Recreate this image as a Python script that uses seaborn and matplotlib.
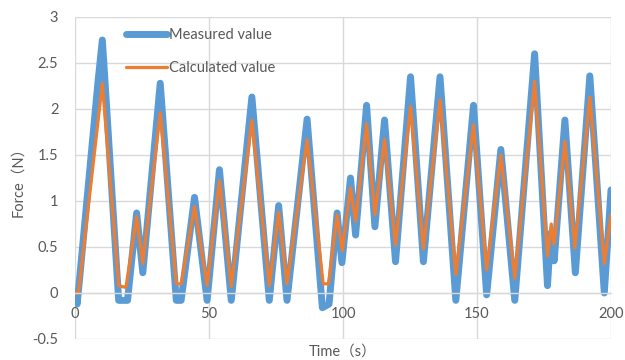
import numpy as np
import pandas as pd
import matplotlib
matplotlib.use("Agg")
import matplotlib.pyplot as plt
import seaborn as sns

# ---- data ----
meas_t = [0, 0.8, 1.6, 8.6, 10.2, 11.2, 16.3, 19.6, 23.0, 25.3, 31.8, 37.8, 39.6,
          44.6, 49.3, 53.9, 58.3, 66.0, 72.5, 76.0, 79.1, 86.6, 92.3, 94.8, 97.8,
          99.6, 102.8, 104.7, 108.8, 111.9, 115.5, 119.6, 125.2, 130.0, 136.2,
          142.1, 148.7, 153.6, 158.9, 164.1, 171.5, 176.3, 177.5, 178.8, 182.8,
          186.7, 192.1, 197.5, 200.0]
meas_v = [0.0, -0.12, 0.12, 2.3, 2.75, 2.3, -0.08, -0.08, 0.87, 0.22, 2.28, -0.08, -0.08,
          1.04, -0.08, 1.34, -0.08, 2.13, -0.08, 0.95, -0.08, 1.89, -0.16, -0.12, 0.87,
          0.33, 1.25, 0.63, 2.04, 0.72, 1.88, 0.34, 2.35, 0.34, 2.35,
          -0.08, 2.04, -0.02, 1.56, -0.08, 2.6, 0.08, 0.65, 0.35, 1.88,
          0.22, 2.36, 0.0, 1.12]

calc_t = [0, 1.3, 10.2, 16.3, 19.0, 23.0, 25.3, 31.8, 37.8, 39.6, 44.6, 49.3, 53.9,
          58.3, 66.0, 72.5, 76.0, 79.1, 86.6, 92.6, 94.6, 97.8, 99.7, 102.8, 104.7,
          108.8, 111.9, 115.5, 119.6, 125.2, 130.0, 136.2, 142.1, 148.7, 153.6,
          158.9, 164.1, 171.5, 176.3, 177.7, 178.8, 182.8, 186.5, 192.1, 197.5, 200.0]
calc_v = [0.0, 0.0, 2.28, 0.08, 0.06, 0.83, 0.32, 1.96, 0.1, 0.1, 0.94, 0.08, 1.22,
          0.07, 1.88, 0.08, 0.88, 0.1, 1.67, 0.1, 0.1, 0.85, 0.46, 1.14, 0.78,
          1.84, 0.85, 1.67, 0.52, 2.03, 0.48, 2.1, 0.2, 1.83, 0.25,
          1.5, 0.16, 2.3, 0.4, 0.75, 0.53, 1.65, 0.49, 2.13, 0.32, 0.85]

x_ticks = [0, 50, 100, 150, 200]
y_ticks = [-0.5, 0, 0.5, 1, 1.5, 2, 2.5, 3]
y_tick_labels = ["-0.5", "0", "0.5", "1", "1.5", "2", "2.5", "3"]

sns.set_theme(style="white")
plt.rcParams["font.family"] = ["Lato", "Noto Sans CJK JP", "DejaVu Sans"]

TXT = "#595959"
GRID = "#d9d9d9"

fig = plt.figure(figsize=(6.25, 3.6), dpi=100)
ax = fig.add_axes([75 / 625, 1 - 339 / 360, (611 - 75) / 625, (339 - 17) / 360])

sns.lineplot(x=meas_t, y=meas_v, ax=ax, color="#5b9bd5", lw=5.0, sort=False,
             estimator=None, label="Measured value",
             solid_joinstyle="round", solid_capstyle="round")
sns.lineplot(x=calc_t, y=calc_v, ax=ax, color="#ed7d31", lw=2.3, sort=False,
             estimator=None, label="Calculated value",
             solid_joinstyle="round", solid_capstyle="round")

ax.set_xlim(0, 200)
ax.set_ylim(-0.5, 3)
ax.set_xticks(x_ticks)
ax.set_xticklabels([str(v) for v in x_ticks])
ax.set_yticks(y_ticks)
ax.set_yticklabels(y_tick_labels)
ax.grid(True, color=GRID, lw=1.0)
ax.set_axisbelow(True)

for s in ["top", "right", "left"]:
    ax.spines[s].set_visible(False)
ax.spines["bottom"].set_position(("data", 0))
ax.spines["bottom"].set_color(GRID)
ax.spines["bottom"].set_linewidth(1.0)

ax.tick_params(axis="both", length=0, labelsize=10.5, colors=TXT)
ax.tick_params(axis="x", pad=10)
ax.tick_params(axis="y", pad=12)
ax.set_xlabel("")
ax.set_ylabel("Force（N）", fontsize=10.5, color=TXT, labelpad=5)

fig.text(343 / 625, 1 - 352 / 360, "Time（s）", ha="center", va="center",
         fontsize=10.5, color=TXT)

ax.legend(frameon=False, loc="upper left", bbox_to_anchor=(126 / 625, 1 - 28 / 360),
          bbox_transform=fig.transFigure, handlelength=2.8, handletextpad=0.15,
          labelspacing=1.3, borderpad=0, borderaxespad=0, fontsize=10.5, labelcolor=TXT)

fig.savefig("out.png", dpi=100)
